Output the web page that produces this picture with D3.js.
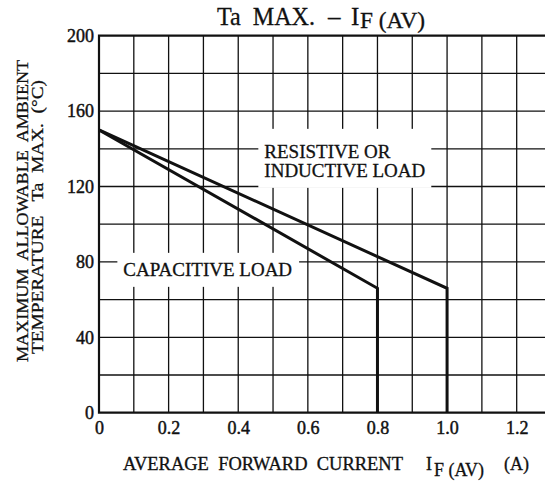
<!DOCTYPE html>
<html>
<head>
<meta charset="utf-8">
<script src="https://cdn.jsdelivr.net/npm/d3@7"></script>
<style>
  body { margin: 0; background: #fff; }
  text { font-family: "Liberation Serif", "Times New Roman", serif; fill: #111; white-space: pre; }
</style>
</head>
<body>
<div id="chart" style="width:545px;height:482px"></div>
<script>
// values
const currentTicks = [0, 0.2, 0.4, 0.6, 0.8, 1.0, 1.2];
const tempTicks = [0, 40, 80, 120, 160, 200];
const resistiveCurrent = [0, 1.0, 1.0];
const resistiveTemp = [150, 66, 0];
const capacitiveCurrent = [0, 0.8, 0.8];
const capacitiveTemp = [150, 66, 0];

function DeratingChart() {

    let self = this;

    self.initialize = function(conf) {
        self.el = document.getElementById(conf.el);
        self.graphWidth = 545;
        self.graphHeight = 482;
        // plot area runs past the right edge of the picture (up to 1.3 A)
        self.x = d3.scaleLinear().domain([0, 1.3]).range([99, 551.5]);
        self.y = d3.scaleLinear().domain([0, 200]).range([412.7, 35.7]);
        self.render();
    };

    self.render = function() {
        self.svg = d3.select(self.el).append("svg")
            .attr("width", self.graphWidth)
            .attr("height", self.graphHeight);

        self.renderGrid();
        self.renderLabels();
        self.renderCurves();
        self.renderAxes();
        self.renderTitles();
    };

    self.renderGrid = function() {
        let x = self.x, y = self.y;
        let g = self.svg.append("g").attr("class", "grid");
        let xs = d3.range(1, 14).map(i => i / 10);
        let ys = d3.range(20, 200, 20);

        g.selectAll("line.v").data(xs).enter().append("line")
            .attr("class", "v")
            .attr("x1", d => x(d)).attr("x2", d => x(d))
            .attr("y1", y(0)).attr("y2", y(200))
            .attr("stroke", "#111").attr("stroke-width", 1.3);

        g.selectAll("line.h").data(ys).enter().append("line")
            .attr("class", "h")
            .attr("x1", x(0)).attr("x2", x(1.3))
            .attr("y1", d => y(d)).attr("y2", d => y(d))
            .attr("stroke", "#111").attr("stroke-width", 1.3);

        // frame
        g.append("path")
            .attr("d", "M" + x(1.3) + "," + y(200) + "H" + x(0) + "V" + y(0) + "H" + x(1.3))
            .attr("fill", "none")
            .attr("stroke", "#111")
            .attr("stroke-width", 2.2);
    };

    self.addBoxedText = function(lines, px, py, lineGap, pad) {
        let x = self.x, y = self.y;
        let g = self.svg.append("g");
        let box = g.append("rect").attr("fill", "#fff");
        let t = g.append("text")
            .attr("font-size", 19)
            .attr("stroke", "#111").attr("stroke-width", 0.3);
        lines.forEach((s, i) => {
            t.append("tspan")
                .attr("x", x(px))
                .attr("y", y(py) + i * lineGap)
                .text(s);
        });
        let bb = t.node().getBBox();
        box.attr("x", bb.x - pad.l)
            .attr("y", bb.y - pad.t)
            .attr("width", bb.width + pad.l + pad.r)
            .attr("height", bb.height + pad.t + pad.b);
    };

    self.renderLabels = function() {
        self.addBoxedText(["RESISTIVE OR", "INDUCTIVE LOAD"], 0.475, 135.2, 19, {l: 6, r: 6, t: 12, b: 7});
        self.addBoxedText(["CAPACITIVE LOAD"], 0.07, 72.6, 0, {l: 6, r: 7, t: 6, b: 7});
    };

    self.renderCurves = function() {
        let x = self.x, y = self.y;
        let line = d3.line().x(d => x(d[0])).y(d => y(d[1]));
        let curves = [
            d3.zip(resistiveCurrent, resistiveTemp),
            d3.zip(capacitiveCurrent, capacitiveTemp)
        ];
        self.svg.append("g").selectAll("path.curve")
            .data(curves).enter().append("path")
            .attr("class", "curve")
            .attr("d", line)
            .attr("fill", "none")
            .attr("stroke", "#111")
            .attr("stroke-width", 3)
            .attr("stroke-linejoin", "miter");
    };

    self.renderAxes = function() {
        let xAxis = d3.axisBottom(self.x)
            .tickValues(currentTicks)
            .tickSize(0)
            .tickPadding(9)
            .tickFormat(d => d === 0 ? "0" : d3.format(".1f")(d));
        let yAxis = d3.axisLeft(self.y)
            .tickValues(tempTicks)
            .tickSize(0)
            .tickPadding(5);

        let gx = self.svg.append("g")
            .attr("transform", "translate(0," + self.y(0) + ")")
            .call(xAxis);
        let gy = self.svg.append("g")
            .attr("transform", "translate(" + self.x(0) + ",0)")
            .call(yAxis);

        [gx, gy].forEach(g => {
            g.select(".domain").remove();
            g.selectAll("text")
                .attr("font-family", null)
                .attr("font-size", 18)
                .attr("fill", "#111")
                .attr("stroke", "#111").attr("stroke-width", 0.45);
        });
    };

    // one piece of a title, placed at its own x and stretched to a width
    self.piece = function(parent, s, px, py, size, len) {
        let t = parent.append("text")
            .attr("x", px).attr("y", py)
            .attr("font-size", size)
            .attr("stroke", "#111").attr("stroke-width", 0.3)
            .text(s);
        if (len) t.attr("textLength", len).attr("lengthAdjust", "spacingAndGlyphs");
        return t;
    };

    self.renderTitles = function() {
        let svg = self.svg;

        let title = svg.append("g");
        self.piece(title, "Ta  MAX.", 217, 25, 25, 98);
        self.piece(title, "–", 328, 25, 25);
        self.piece(title, "I", 351, 25, 25);
        self.piece(title, "F (AV)", 360, 28, 23, 65);

        let xt = svg.append("g");
        self.piece(xt, "AVERAGE  FORWARD  CURRENT", 123, 470, 18, 280);
        self.piece(xt, "I", 426, 470, 18);
        self.piece(xt, "F (AV)", 434, 476, 18, 50);
        self.piece(xt, "(A)", 504, 470, 18);

        let yt = svg.append("g")
            .attr("transform", "rotate(-90)");
        self.piece(yt, "MAXIMUM  ALLOWABLE  AMBIENT", -362, 27.5, 17, 302);
        self.piece(yt, "TEMPERATURE   Ta  MAX.  (°C)", -354, 43, 17, 274);
    };
}

let chart = new DeratingChart();
chart.initialize({el: "chart"});
</script>
</body>
</html>
